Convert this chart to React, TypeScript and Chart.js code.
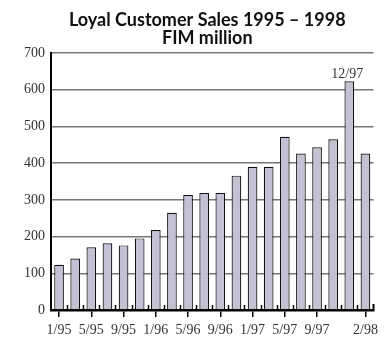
import React, { useEffect, useRef } from "react";
import { Chart, registerables } from "chart.js";

Chart.register(...registerables);

const periods = ["1/95","3/95","5/95","7/95","9/95","11/95","1/96","3/96","5/96","7/96","9/96","11/96","1/97","3/97","5/97","7/97","9/97","11/97","12/97","2/98"];
const shownTickLabels = ["1/95","5/95","9/95","1/96","5/96","9/96","1/97","5/97","9/97","2/98"];
const sales = [123,140,171,182,176,195,218,265,313,319,319,366,390,390,472,426,443,465,623,426];
const annotatedPeriod = "12/97";
const titleLines = ["Loyal Customer Sales 1995 \u2013 1998", "FIM million"];
const yTicks = { min: 0, max: 700, step: 100 };

const SERIF = "'Liberation Serif', 'DejaVu Serif', serif";
const SANS = "Lato, 'Open Sans', sans-serif";

const decorPlugin = {
  id: "decor",
  afterDatasetsDraw(chart: any) {
    const ctx = chart.ctx;
    const xs = chart.scales.x;
    const ys = chart.scales.y;
    const ca = chart.chartArea;
    ctx.save();
    ctx.strokeStyle = "#000";
    ctx.lineWidth = 1.5;
    for (let i = 1; i < periods.length; i++) {
      const px = Math.round((xs.getPixelForValue(i - 1) + xs.getPixelForValue(i)) / 2) + 0.5;
      ctx.beginPath();
      ctx.moveTo(px, ca.bottom);
      ctx.lineTo(px, ca.bottom - 5);
      ctx.stroke();
    }
    ctx.lineWidth = 2;
    ctx.beginPath();
    ctx.moveTo(ca.right, ca.bottom);
    ctx.lineTo(ca.right, ca.bottom - 6);
    ctx.stroke();

    const ai = periods.indexOf(annotatedPeriod);
    ctx.fillStyle = "#333";
    ctx.font = `14px ${SERIF}`;
    ctx.textAlign = "center";
    ctx.textBaseline = "alphabetic";
    ctx.fillText(annotatedPeriod, xs.getPixelForValue(ai) - 2, ys.getPixelForValue(sales[ai]) - 3.5);

    ctx.fillStyle = "#111";
    ctx.font = `bold 18px ${SANS}`;
    const cx = (ca.left + ca.right) / 2 - 5;
    ctx.fillText(titleLines[0], cx, 26);
    ctx.fillText(titleLines[1], cx, 44);
    ctx.restore();
  },
};

export default function App() {
  const ref = useRef<HTMLCanvasElement>(null);
  useEffect(() => {
    if (!ref.current) return;
    const chart = new Chart(ref.current, {
      type: "bar",
      data: {
        labels: periods,
        datasets: [
          {
            data: sales,
            backgroundColor: "#c3c1d3",
            borderColor: "#111",
            borderWidth: 1.2,
            barPercentage: 0.6,
            categoryPercentage: 1,
          },
        ],
      },
      options: {
        responsive: false,
        animation: false,
        layout: { padding: { top: 53, right: 5, left: 18, bottom: -5 } },
        plugins: { legend: { display: false }, title: { display: false }, tooltip: { enabled: false } },
        scales: {
          x: {
            grid: {
              offset: false,
              drawOnChartArea: false,
              drawTicks: true,
              tickLength: 7,
              lineWidth: 1.5,
              color: (c: any) => (shownTickLabels.includes(periods[c.index]) ? "#000" : "rgba(0,0,0,0)"),
            },
            border: { color: "#000", width: 2.5 },
            ticks: {
              autoSkip: false,
              maxRotation: 0,
              minRotation: 0,
              padding: 6,
              color: "#333",
              font: { family: SERIF, size: 14, lineHeight: 1 },
              callback: (v: any, i: number) => (shownTickLabels.includes(periods[i]) ? periods[i] : ""),
            },
          },
          y: {
            min: yTicks.min,
            max: yTicks.max,
            grid: { color: "#777", lineWidth: 1.5, drawTicks: false },
            border: { color: "#000", width: 2 },
            ticks: {
              stepSize: yTicks.step,
              padding: 6,
              color: "#333",
              font: { family: SERIF, size: 14 },
            },
          },
        },
      },
      plugins: [decorPlugin],
    });
    return () => chart.destroy();
  }, []);
  return (
    <div style={{ position: "fixed", left: 0, top: 0, width: 384, height: 338, background: "#fff" }}>
      <canvas ref={ref} width={384} height={338} />
    </div>
  );
}
